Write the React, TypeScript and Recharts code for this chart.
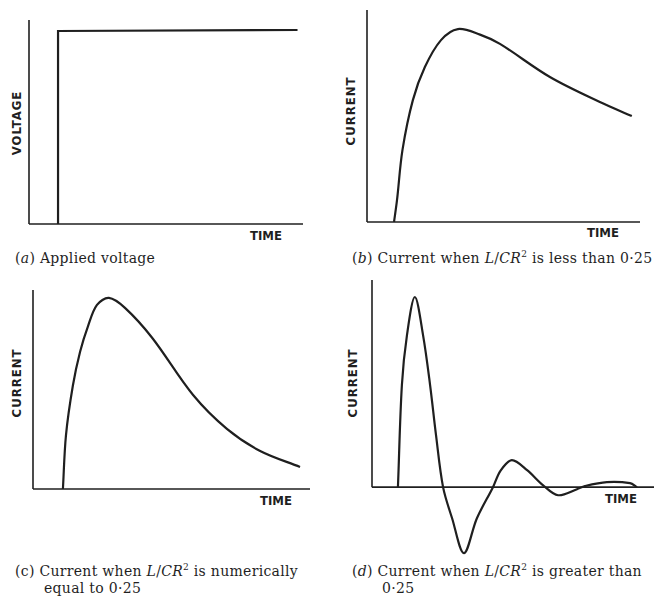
import React from "react";
import { LineChart, Line, XAxis, YAxis, ReferenceLine } from "recharts";

// (a) applied voltage – a step
const voltageTime = [10.6, 10.6, 98];
const voltageValues = [0, 94.6, 95.1];

// (b) L/CR² < 0.25
const currentBTime = [9.9, 11, 13, 16.8, 21.2, 27.1, 33.3, 41.4, 48.7, 67, 85.3, 97];
const currentBValues = [0, 10.4, 34, 57.5, 73.1, 85.8, 91, 88.4, 84, 68.4, 56.6, 50];

// (c) L/CR² = 0.25
const currentCTime = [10.8, 11.9, 14.4, 17, 19.9, 23.1, 27.4, 33.2, 43, 57.8, 70, 82, 96.4];
const currentCValues = [0, 27, 52, 69, 82, 92.5, 96, 91, 76, 47.2, 30.2, 19.1, 11.1];

// (d) L/CR² > 0.25
const currentDTime = [9.2, 10.6, 12.4, 15.2, 18.1, 20.6, 22.7, 25.2, 28.4, 32.6, 37.2, 42.9, 45.6, 49.6, 55, 60.6, 66, 72.7, 75.5, 83.3, 91.5, 94];
const currentDValues = [0, 49.3, 73.4, 91.8, 73.4, 49.3, 25.1, 0, -15, -31.9, -15, 0, 8, 13, 8.2, 1, -3.9, -1, 0.5, 2.4, 1.9, 0];

const zip = (ts: number[], vs: number[]) => ts.map((t, i) => ({ t, v: vs[i] }));

const INK = "#1f1f1f";
const PAD = 6;

// smooth curve through the points, tangents scaled by chord length
const smoothCurve = (context: any) => {
  let pts: [number, number][] = [];
  return {
    areaStart() {},
    areaEnd() {},
    lineStart() {
      pts = [];
    },
    point(x: number, y: number) {
      pts.push([+x, +y]);
    },
    lineEnd() {
      const n = pts.length;
      if (!n) return;
      context.moveTo(pts[0][0], pts[0][1]);
      if (n < 3) {
        for (let i = 1; i < n; i++) context.lineTo(pts[i][0], pts[i][1]);
        return;
      }
      const d: number[] = [];
      for (let i = 0; i < n - 1; i++) {
        d.push(Math.hypot(pts[i + 1][0] - pts[i][0], pts[i + 1][1] - pts[i][1]) || 1e-6);
      }
      const tan: [number, number][] = pts.map((p, i) => {
        if (i === 0) return [(pts[1][0] - p[0]) / d[0], (pts[1][1] - p[1]) / d[0]];
        if (i === n - 1)
          return [(p[0] - pts[i - 1][0]) / d[i - 1], (p[1] - pts[i - 1][1]) / d[i - 1]];
        const s = d[i - 1] + d[i];
        return [(pts[i + 1][0] - pts[i - 1][0]) / s, (pts[i + 1][1] - pts[i - 1][1]) / s];
      });
      for (let i = 0; i < n - 1; i++) {
        const k = d[i] / 3;
        context.bezierCurveTo(
          pts[i][0] + tan[i][0] * k,
          pts[i][1] + tan[i][1] * k,
          pts[i + 1][0] - tan[i + 1][0] * k,
          pts[i + 1][1] - tan[i + 1][1] * k,
          pts[i + 1][0],
          pts[i + 1][1]
        );
      }
    },
  };
};

const axisFont: React.CSSProperties = {
  position: "absolute",
  fontFamily: "'DejaVu Sans Condensed', 'DejaVu Sans', sans-serif",
  fontWeight: 700,
  fontSize: 13,
  color: INK,
  whiteSpace: "nowrap",
  lineHeight: 1,
};

const captionFont: React.CSSProperties = {
  position: "absolute",
  fontFamily: "'DejaVu Serif', serif",
  fontSize: 14,
  letterSpacing: 0.3,
  color: INK,
  whiteSpace: "nowrap",
  lineHeight: "17px",
};

const sup: React.CSSProperties = { fontSize: 9, verticalAlign: "6px", lineHeight: 0 };

interface PanelProps {
  left: number;
  top: number;
  width: number;
  height: number;
  yMin: number;
  yMax: number;
  axisTop: number;
  data: { t: number; v: number }[];
  curve: any;
}

const Panel = ({ left, top, width, height, yMin, yMax, axisTop, data, curve }: PanelProps) => (
  <div style={{ position: "absolute", left: left - PAD, top: top - PAD }}>
    <LineChart
      width={width + PAD * 2}
      height={height + PAD * 2}
      data={data}
      margin={{ top: PAD, right: PAD, bottom: PAD, left: PAD }}
    >
      <XAxis type="number" dataKey="t" domain={[0, 100]} hide height={0} />
      <YAxis type="number" domain={[yMin, yMax]} hide width={0} allowDataOverflow />
      <ReferenceLine
        segment={[{ x: 0, y: 0 }, { x: 100, y: 0 }]}
        stroke={INK}
        strokeWidth={1.6}
      />
      <ReferenceLine
        segment={[{ x: 0, y: 0 }, { x: 0, y: axisTop }]}
        stroke={INK}
        strokeWidth={1.6}
      />
      <Line
        type={curve}
        dataKey="v"
        stroke={INK}
        strokeWidth={2.2}
        dot={false}
        isAnimationActive={false}
      />
    </LineChart>
  </div>
);

const VLabel = ({ x, y, text }: { x: number; y: number; text: string }) => (
  <div
    style={{
      ...axisFont,
      left: x,
      top: y,
      letterSpacing: 1,
      transform: "translate(-50%, -50%) rotate(-90deg)",
    }}
  >
    {text}
  </div>
);

export default function App() {
  return (
    <div
      style={{
        position: "absolute",
        left: 0,
        top: 0,
        width: 655,
        height: 597,
        background: "#fff",
        overflow: "hidden",
      }}
    >
      <Panel left={29} top={20} width={274} height={204} yMin={0} yMax={100} axisTop={100}
        data={zip(voltageTime, voltageValues)} curve="linear" />
      <Panel left={367} top={10} width={273} height={212} yMin={0} yMax={100} axisTop={100}
        data={zip(currentBTime, currentBValues)} curve={smoothCurve} />
      <Panel left={33} top={290} width={277} height={199} yMin={0} yMax={100} axisTop={100}
        data={zip(currentCTime, currentCValues)} curve={smoothCurve} />
      <Panel left={372} top={280} width={282} height={290} yMin={-40} yMax={100} axisTop={100}
        data={zip(currentDTime, currentDValues)} curve={smoothCurve} />

      <div style={{ ...axisFont, left: 250, top: 229 }}>TIME</div>
      <div style={{ ...axisFont, left: 587, top: 226 }}>TIME</div>
      <div style={{ ...axisFont, left: 260, top: 494 }}>TIME</div>
      <div style={{ ...axisFont, left: 605, top: 492 }}>TIME</div>

      <VLabel x={16} y={123} text="VOLTAGE" />
      <VLabel x={350} y={111} text="CURRENT" />
      <VLabel x={16} y={383} text="CURRENT" />
      <VLabel x={352} y={383} text="CURRENT" />

      <div style={{ ...captionFont, left: 15, top: 250 }}>
        (<i>a</i>) Applied voltage
      </div>
      <div style={{ ...captionFont, left: 352, top: 250 }}>
        (<i>b</i>) Current when <i>L</i>/<i>CR</i><sup style={sup}>2</sup> is less than 0·25
      </div>
      <div style={{ ...captionFont, left: 15, top: 563 }}>
        (c) Current when <i>L</i>/<i>CR</i><sup style={sup}>2</sup> is numerically
        <br />
        <span style={{ paddingLeft: 29 }}>equal to 0·25</span>
      </div>
      <div style={{ ...captionFont, left: 352, top: 563 }}>
        (<i>d</i>) Current when <i>L</i>/<i>CR</i><sup style={sup}>2</sup> is greater than
        <br />
        <span style={{ paddingLeft: 30 }}>0·25</span>
      </div>
    </div>
  );
}
